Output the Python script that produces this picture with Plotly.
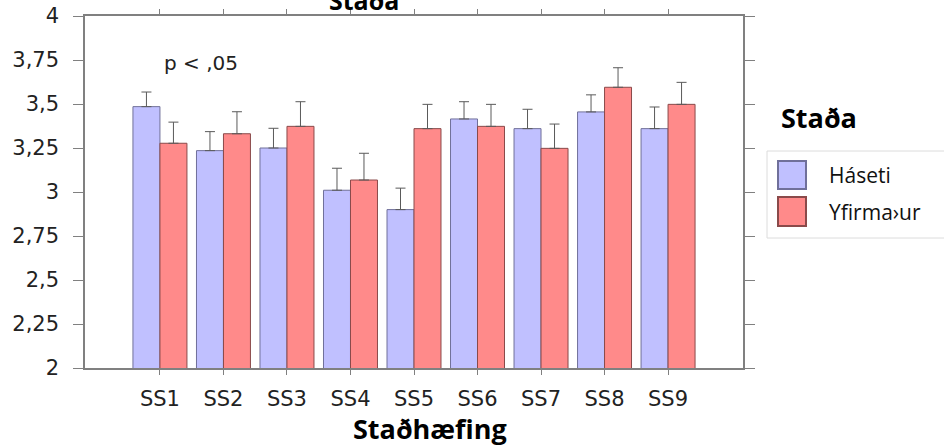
import plotly.graph_objects as go

# Mean ratings per statement, by rank, with standard-error whiskers
categories = ["SS1", "SS2", "SS3", "SS4", "SS5", "SS6", "SS7", "SS8", "SS9"]
haseti = [3.485, 3.235, 3.25, 3.01, 2.90, 3.415, 3.36, 3.455, 3.36]
haseti_err = [0.083, 0.108, 0.112, 0.125, 0.122, 0.098, 0.11, 0.097, 0.123]
yfirmadur = [3.277, 3.331, 3.373, 3.068, 3.36, 3.373, 3.248, 3.595, 3.498]
yfirmadur_err = [0.12, 0.125, 0.14, 0.152, 0.138, 0.125, 0.138, 0.111, 0.125]

y_ticks = [2, 2.25, 2.5, 2.75, 3, 3.25, 3.5, 3.75, 4]
y_tick_labels = ["2", "2,25", "2,5", "2,75", "3", "3,25", "3,5", "3,75", "4"]

series_names = ["Háseti", "Yfirma›ur"]
fill_colors = ["#C0C0FF", "#FF8A8A"]
edge_colors = ["#70709A", "#8A4A4A"]

W, H = 944, 448
L, R, T, B = 85, 201, 16, 80
plot_w = W - L - R
plot_h = H - T - B


def px(x):
    return (x - L) / plot_w


def py(y):
    return (H - B - y) / plot_h


fig = go.Figure()
for name, vals, errs, fc, ec in zip(series_names, [haseti, yfirmadur],
                                    [haseti_err, yfirmadur_err],
                                    fill_colors, edge_colors):
    fig.add_trace(go.Bar(
        x=categories, y=vals, name=name,
        marker=dict(color=fc, line=dict(color=ec, width=1)),
        error_y=dict(type="data", array=errs, symmetric=False,
                     arrayminus=[0] * len(errs), color="#5a5a5a",
                     thickness=1, width=5),
        showlegend=False,
    ))

axis_line = "#808080"
tick_font = dict(family="DejaVu Sans", size=21, color="#222222")
fig.update_layout(
    width=W, height=H,
    margin=dict(l=L, r=R, t=T, b=B, autoexpand=False),
    paper_bgcolor="white", plot_bgcolor="white",
    barmode="group", bargap=0.15, bargroupgap=0,
    showlegend=False,
    font=dict(family="DejaVu Sans", size=20, color="#222222"),
    xaxis=dict(
        type="category", categoryorder="array", categoryarray=categories,
        range=[-1.18, 8 + 1.18], automargin=False,
        showline=True, linecolor=axis_line, linewidth=1.5, mirror="ticks",
        ticks="outside", ticklen=5, tickcolor=axis_line, tickwidth=1,
        showgrid=False, zeroline=False,
        tickfont=tick_font, ticklabelstandoff=6,
    ),
    yaxis=dict(
        range=[2, 4], tickvals=y_ticks, ticktext=y_tick_labels,
        automargin=False,
        showline=True, linecolor=axis_line, linewidth=1.5, mirror="ticks",
        ticks="outside", ticklen=10, tickcolor=axis_line, tickwidth=1,
        showgrid=False, zeroline=False,
        tickfont=tick_font, ticklabelstandoff=10,
    ),
)

bold = dict(family="Open Sans", size=25, color="black", weight="bold")

# Chart title (partly above the page edge) and x-axis title
fig.add_annotation(text="Staða", xref="paper", yref="paper",
                   x=px(364), y=py(19), xanchor="center", yanchor="bottom",
                   showarrow=False, font=bold)
fig.add_annotation(text="Staðhæfing", xref="paper", yref="paper",
                   x=px(430), y=py(428), xanchor="center", yanchor="middle",
                   showarrow=False, font=dict(bold, size=27))

# Significance note
fig.add_annotation(text="p < ,05", xref="x", yref="y", x=0.646, y=3.735,
                   xanchor="center", yanchor="middle", showarrow=False,
                   font=dict(family="DejaVu Sans", size=20, color="#222222"))

# Legend block: title, frame, swatches and labels
fig.add_annotation(text="Staða", xref="paper", yref="paper",
                   x=px(779), y=py(117), xanchor="left", yanchor="middle",
                   showarrow=False, font=dict(bold, size=27))
fig.add_shape(type="rect", xref="paper", yref="paper",
              x0=px(767), x1=px(960), y0=py(151), y1=py(238),
              line=dict(color="#dcdcdc", width=1), fillcolor="white")
swatch_rows = [(161, 189), (197, 226)]
for (top, bottom), name, fc, ec in zip(swatch_rows, series_names,
                                       fill_colors, edge_colors):
    fig.add_shape(type="rect", xref="paper", yref="paper",
                  x0=px(778), x1=px(806), y0=py(bottom), y1=py(top),
                  line=dict(color=ec, width=2), fillcolor=fc)
    fig.add_annotation(text=name, xref="paper", yref="paper",
                       x=px(827), y=py((top + bottom) / 2),
                       xanchor="left", yanchor="middle", showarrow=False,
                       font=dict(family="Open Sans", size=21, color="#111111"))

fig.write_html("out.html")
